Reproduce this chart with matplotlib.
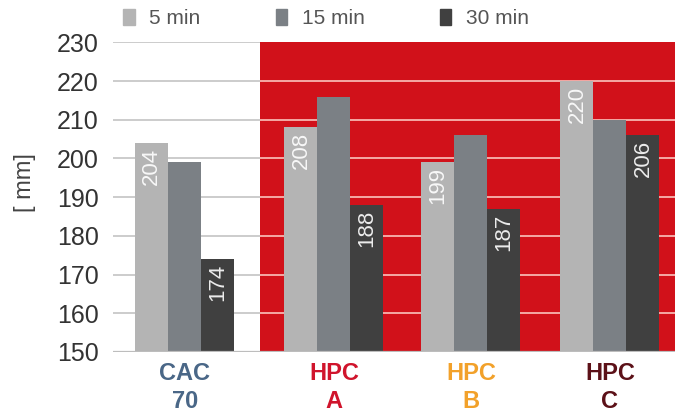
import matplotlib.pyplot as plt
import numpy as np
from matplotlib.patches import Patch

plt.rcParams['font.family'] = ['Liberation Sans', 'DejaVu Sans']

# data
categories = ["CAC\n70", "HPC\nA", "HPC\nB", "HPC\nC"]
cat_colors = ["#4a6787", "#d0142c", "#f2a12a", "#5c1118"]
series = ["5 min", "15 min", "30 min"]
vals_5 = [204, 208, 199, 220]
vals_15 = [199, 216, 206, 210]
vals_30 = [174, 188, 187, 206]
show_label = [True, False, True]

# layout (bar-width units)
group_pos = [2.18, 6.70, 10.85, 15.06]
red_start = 4.45
x_max = 17.03
bar_colors = ["#b4b4b4", "#7b8085", "#404040"]
red = "#d1111a"

fig = plt.figure(figsize=(6.75, 4.15), dpi=100)
ax = fig.add_axes([0.167, 0.152, 0.833, 0.746])

ax.set_xlim(0, x_max)
ax.set_ylim(150, 230)

# red background for HPC
ax.axvspan(red_start, x_max, color=red, zorder=0, lw=0)

yticks = np.arange(150, 231, 10)
ax.hlines(yticks[1:], 0, red_start, colors="#cccccc", lw=1.4, zorder=1)
ax.hlines(yticks[1:-1], red_start, x_max, colors="#f4aaa5", lw=1.4, zorder=1)
ax.axhline(150, color="#bdbdbd", lw=1.6, zorder=3)

pos = np.array(group_pos)
for i, vals in enumerate([vals_5, vals_15, vals_30]):
    xs = pos + (i - 1)
    ax.bar(xs, np.array(vals) - 150, bottom=150, width=1.0, color=bar_colors[i],
           zorder=2, lw=0)
    if show_label[i]:
        for x, v in zip(xs, vals):
            ax.text(x, v - 1.2, str(v), rotation=90, ha="center", va="top",
                    color="white", fontsize=16, alpha=0.9, zorder=4)

for s in ax.spines.values():
    s.set_visible(False)

ax.set_yticks(yticks)
ax.tick_params(axis="y", length=0, pad=10, labelsize=18, labelcolor="#333333")
ax.set_xticks(group_pos)
ax.set_xticklabels(categories, fontsize=17, fontweight="bold", linespacing=1.3)
ax.tick_params(axis="x", length=0, pad=7)
for lbl, c in zip(ax.get_xticklabels(), cat_colors):
    lbl.set_color(c)

fig.text(0.037, 0.56, "[ mm]", rotation=90, ha="center", va="center",
         fontsize=17, color="#444444")

handles = [Patch(color=c, label=s) for c, s in zip(bar_colors, series)]
fig.legend(handles=handles, loc="center left", bbox_to_anchor=(0.155, 0.955),
           ncol=3, frameon=False, fontsize=15, handlelength=0.55,
           handleheight=0.75, handletextpad=0.7, columnspacing=3.6,
           labelcolor="#555555")

fig.savefig("out.png", dpi=100)
